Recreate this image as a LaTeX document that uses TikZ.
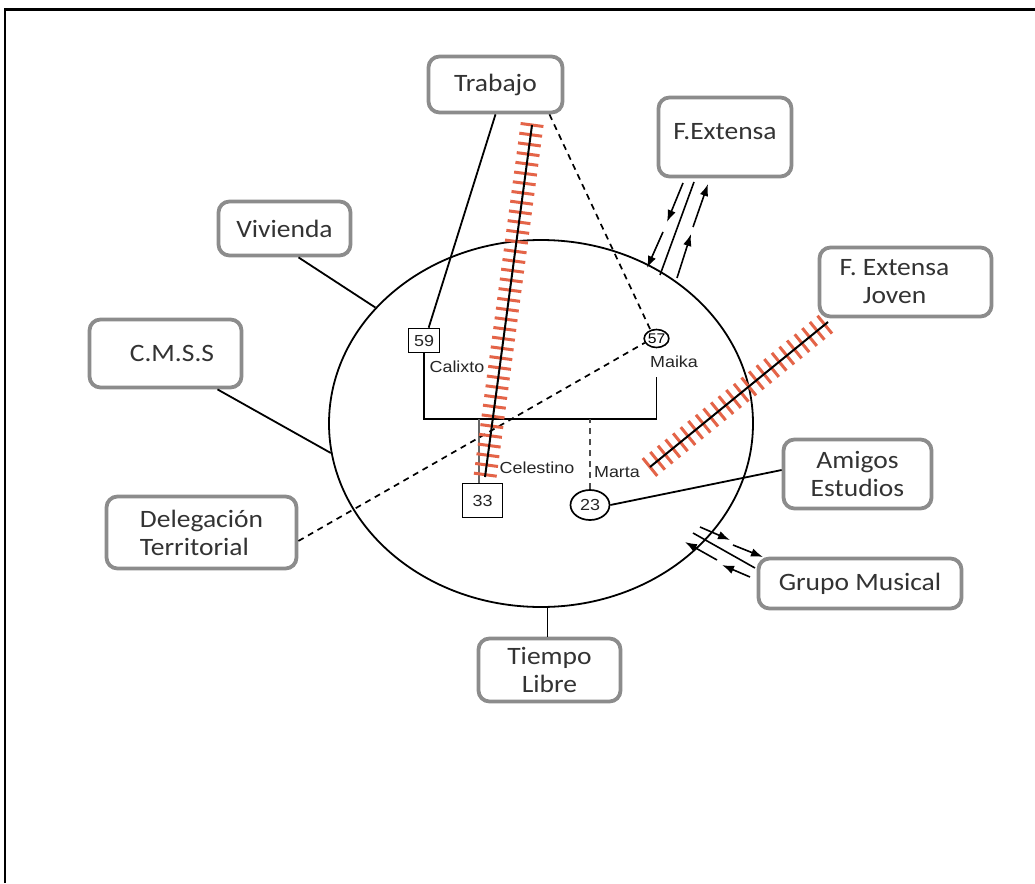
\documentclass[tikz,border=0pt]{standalone}
\usepackage{fontspec}
\setmainfont{Carlito}
\newfontfamily\boxfont[FakeStretch=1.1]{Carlito}
\newfontfamily\lblfont[FakeStretch=1.12]{Liberation Sans}
\usetikzlibrary{shapes.geometric,arrows.meta,decorations.pathreplacing,calc}
\definecolor{boxgray}{RGB}{140,140,140}
\definecolor{hatchred}{RGB}{228,100,72}
\begin{document}
\begin{tikzpicture}[x=1pt,y=-1pt,
  sbox/.style={draw=boxgray, line width=3.8pt, rounded corners=11pt, fill=white, align=center,
    font=\boxfont\fontsize{25}{28}\selectfont, inner sep=0pt, text=black!80},
  lbl/.style={font=\lblfont\fontsize{16}{18}\selectfont, inner sep=0pt, text=black!85},
  conn/.style={line width=1.8pt},
  dsh/.style={line width=1.7pt, dash pattern=on 6pt off 5pt},
  arr/.style={line width=1.6pt, -{Latex[length=12pt,width=8.5pt]}},
  hatch/.style={draw=hatchred, line width=3pt, decorate,
    decoration={ticks, segment length=9.8pt, amplitude=11.5pt}},
  spine/.style={line width=2pt}]
\useasboundingbox (0,0) rectangle (1035,883);
\fill[white] (0,0) rectangle (1035,883);
% frame
\draw[line width=2.2pt] (5,883) -- (5,9.5) -- (1035,9.5);

% main circle
\node[draw, ellipse, minimum width=424pt, minimum height=367pt, line width=1.8pt, inner sep=0pt] (eco) at (541,423.5) {};

% outer boxes
\node[sbox, minimum width=134pt, minimum height=56pt] (trabajo) at (495.5,84.5) {Trabajo};
\node[sbox, minimum width=133pt, minimum height=79pt, text height=17pt, text depth=13pt] (fext) at (725,137) {F.Extensa};
\node[sbox, minimum width=132pt, minimum height=54pt] (viv) at (284.5,228.5) {Vivienda};
\node[sbox, minimum width=172pt, minimum height=69pt] (fextj) at (905.5,282) {F. Extensa\hspace*{22pt}\\Joven\hspace*{22pt}};
\node[sbox, minimum width=152pt, minimum height=68pt] (cmss) at (165.5,353.5) {\hspace*{13pt}C.M.S.S};
\node[sbox, minimum width=190pt, minimum height=72pt, align=left] (deleg) at (201.5,532.5) {Delegación\\Territorial};
\node[sbox, minimum width=148pt, minimum height=69pt] (amigos) at (857.5,474) {Amigos\\Estudios};
\node[sbox, minimum width=203pt, minimum height=50pt] (grupo) at (860,583.5) {Grupo Musical};
\node[sbox, minimum width=142pt, minimum height=63pt] (tl) at (549.5,670) {Tiempo\\Libre};

% family members
\node[draw, rectangle, minimum width=31pt, minimum height=24pt, line width=1.7pt, lbl] (n59) at (424,340.5) {59};
\node[draw, ellipse, minimum width=24pt, minimum height=18pt, line width=1.6pt, inner sep=0pt,
  font=\lblfont\fontsize{14}{16}\selectfont] (n57) at (656.5,338.5) {57};
\node[draw, rectangle, minimum width=40pt, minimum height=34pt, line width=1.7pt, lbl] (n33) at (482.5,500.5) {33};
\node[draw, ellipse, minimum width=39pt, minimum height=30pt, line width=1.7pt, lbl, inner sep=0pt] (n23) at (590,505) {23};

\node[lbl] (calixto) at (457,367) {Calixto};
\node[lbl] (maika) at (674,362) {Maika};
\node[lbl] (celestino) at (537,468) {Celestino};
\node[lbl] (marta) at (617,472) {Marta};

% family lines
\coordinate (fam) at (0,419);
\draw[conn] (n59.south) -- (n59.south |- fam) -- (n57 |- fam) -- ($(n57 |- maika.south)+(0,9)$);
\coordinate (ch) at ($(n33.north)+(-3.5,0)$);
\draw[line width=2.8pt, draw=black!60] (ch) -- (ch |- fam);
\draw[dsh, draw=black!70] (n23.north) -- (n23.north |- fam);

% solid connectors
\draw[conn] (trabajo.south) -- (n59.70);
\draw[conn] ($(viv.south)+(14,0)$) -- (eco.145);
\draw[conn] ($(cmss.south)+(52,0)$) -- (eco.188);
\draw[conn] (eco.-88) -- (eco.-88 |- tl.north);
\draw[conn] (n23.east) -- (amigos.177);

% dashed connectors
\draw[dsh] (trabajo.-29) -- (n57.125);
\draw[dsh] (deleg.-5) -- (n57.200);

% conflict (hatched) lines
\coordinate (h1a) at (532,125);
\coordinate (h1b) at (485,477);
\draw[hatch] (h1a) -- (h1b);
\draw[spine] (h1a) -- (h1b);
\coordinate (h2a) at (650,467);
\coordinate (h2b) at (828,322);
\draw[hatch] (h2a) -- (h2b);
\draw[spine] (h2a) -- (h2b);

% F.Extensa arrows
\coordinate (fa1) at (683,183); \coordinate (fa2) at (667,222);
\coordinate (fa3) at (663,232); \coordinate (fa4) at (647,268);
\draw[arr] (fa1) -- (fa2);
\draw[arr] (fa3) -- (fa4);
\coordinate (fm1) at (694,182); \coordinate (fm2) at (660,275);
\draw[conn, line width=1.6pt] (fm1) -- (fm2);
\coordinate (fb1) at (677,278); \coordinate (fb2) at (691,234);
\coordinate (fb3) at (693,227); \coordinate (fb4) at (708,184);
\draw[arr] (fb1) -- (fb2);
\draw[arr] (fb3) -- (fb4);

% Grupo Musical arrows
\coordinate (ga1) at (700,527); \coordinate (ga2) at (730,540);
\coordinate (ga3) at (733,545); \coordinate (ga4) at (763,557);
\draw[arr] (ga1) -- (ga2);
\draw[arr] (ga3) -- (ga4);
\coordinate (gm1) at (693,533); \coordinate (gm2) at (755,568);
\draw[conn, line width=1.6pt] (gm1) -- (gm2);
\coordinate (gb1) at (750,577); \coordinate (gb2) at (722,565);
\coordinate (gb3) at (717,560); \coordinate (gb4) at (685,542);
\draw[arr] (gb1) -- (gb2);
\draw[arr] (gb3) -- (gb4);
\end{tikzpicture}
\end{document}
